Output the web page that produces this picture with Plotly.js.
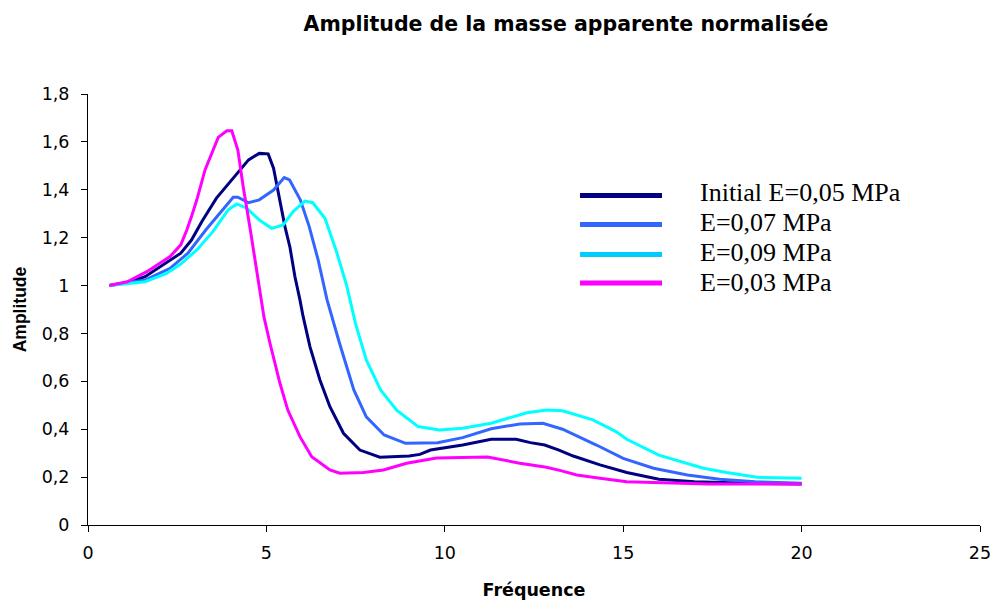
<!DOCTYPE html>
<html>
<head>
<meta charset="utf-8">
<script src="https://cdn.plot.ly/plotly-3.0.1.min.js"></script>
<style>html,body{margin:0;padding:0;background:#fff;}#chart{width:992px;height:601px;}</style>
</head>
<body>
<div id="chart"></div>
<script>
// ---- Data ----
const seriesNames = ["Initial E=0,05 MPa", "E=0,07 MPa", "E=0,09 MPa", "E=0,03 MPa"];

const freqE05 = [0.6, 1.2, 1.6, 2.1, 2.6, 2.9, 3.2, 3.6, 4.0, 4.3, 4.5, 4.8, 5.05, 5.2, 5.38, 5.52, 5.66, 5.8, 5.94, 6.03, 6.22, 6.5, 6.78, 7.16, 7.62, 8.18, 9.0, 9.3, 9.6, 10.5, 11.3, 12.0, 12.4, 12.8, 13.2, 13.6, 14.35, 15.1, 16.0, 17.0, 18.6, 20.0];
const ampE05  = [1.0, 1.016, 1.037, 1.086, 1.135, 1.19, 1.27, 1.365, 1.434, 1.49, 1.525, 1.552, 1.55, 1.49, 1.358, 1.246, 1.16, 1.037, 0.94, 0.87, 0.745, 0.606, 0.494, 0.383, 0.313, 0.283, 0.288, 0.295, 0.313, 0.334, 0.358, 0.358, 0.344, 0.334, 0.313, 0.288, 0.251, 0.219, 0.191, 0.181, 0.174, 0.171];

const freqE07 = [0.6, 1.6, 2.3, 2.8, 3.3, 3.8, 4.07, 4.2, 4.5, 4.8, 5.2, 5.5, 5.65, 5.95, 6.2, 6.45, 6.7, 7.05, 7.45, 7.8, 8.3, 8.9, 9.3, 9.8, 10.5, 11.3, 12.1, 12.75, 13.3, 14.25, 15.0, 15.85, 16.8, 17.7, 18.7, 20.0];
const ampE07  = [1.0, 1.023, 1.072, 1.135, 1.232, 1.323, 1.369, 1.369, 1.346, 1.358, 1.399, 1.451, 1.441, 1.358, 1.246, 1.107, 0.94, 0.759, 0.564, 0.452, 0.376, 0.341, 0.341, 0.344, 0.365, 0.402, 0.422, 0.425, 0.400, 0.334, 0.278, 0.237, 0.209, 0.191, 0.181, 0.174];

const freqE09 = [0.6, 1.6, 2.2, 2.6, 3.05, 3.5, 3.93, 4.17, 4.45, 4.8, 5.15, 5.47, 5.75, 6.08, 6.3, 6.64, 6.95, 7.25, 7.5, 7.8, 8.2, 8.65, 9.25, 9.85, 10.5, 11.3, 12.3, 12.85, 13.3, 14.15, 14.8, 15.1, 16.0, 17.25, 17.9, 18.75, 20.0];
const ampE09  = [1.0, 1.016, 1.051, 1.09, 1.149, 1.225, 1.316, 1.341, 1.323, 1.274, 1.239, 1.253, 1.309, 1.353, 1.346, 1.281, 1.149, 1.0, 0.84, 0.689, 0.564, 0.48, 0.411, 0.397, 0.404, 0.425, 0.469, 0.48, 0.477, 0.439, 0.39, 0.358, 0.292, 0.237, 0.219, 0.199, 0.195];

const freqE03 = [0.6, 1.1, 1.65, 2.3, 2.6, 2.77, 2.9, 3.05, 3.28, 3.47, 3.65, 3.89, 4.03, 4.2, 4.35, 4.55, 4.73, 4.93, 5.1, 5.38, 5.6, 5.94, 6.27, 6.78, 7.06, 7.72, 8.28, 8.93, 9.77, 11.2, 12.1, 12.85, 13.25, 13.7, 14.35, 15.1, 15.85, 17.4, 20.0];
const ampE03  = [1.0, 1.016, 1.058, 1.121, 1.17, 1.232, 1.288, 1.358, 1.483, 1.553, 1.619, 1.646, 1.646, 1.566, 1.413, 1.232, 1.051, 0.87, 0.759, 0.592, 0.48, 0.369, 0.285, 0.23, 0.216, 0.219, 0.23, 0.258, 0.28, 0.284, 0.258, 0.241, 0.227, 0.209, 0.195, 0.181, 0.177, 0.171, 0.171];

const xTickVals = [0, 5, 10, 15, 20, 25];
const xTickText = ["0", "5", "10", "15", "20", "25"];
const yTickVals = [0, 0.2, 0.4, 0.6, 0.8, 1, 1.2, 1.4, 1.6, 1.8];
const yTickText = ["0", "0,2", "0,4", "0,6", "0,8", "1", "1,2", "1,4", "1,6", "1,8"];

// ---- Styling ----
const lineColors   = ["#000080", "#3366FF", "#00FFFF", "#FF00FF"];
const legendColors = ["#000080", "#3366FF", "#00CCFF", "#FF00FF"];
const xs = [freqE05, freqE07, freqE09, freqE03];
const ys = [ampE05, ampE07, ampE09, ampE03];

const traces = seriesNames.map((n, i) => ({
  type: "scatter", mode: "lines", name: n,
  x: xs[i], y: ys[i],
  line: {color: lineColors[i], width: 3, shape: "linear"},
  showlegend: false
}));

// manual legend (long line samples like the reference)
const legLineX0 = 0.5516, legLineX1 = 0.6435, legTextX = 0.6839;
const legLineY = [0.7645, 0.6972, 0.6276, 0.5615];
const legTextY = [0.7726, 0.7007, 0.6334, 0.5638];
const shapes = seriesNames.map((n, i) => ({
  type: "line", xref: "paper", yref: "paper",
  x0: legLineX0, x1: legLineX1, y0: legLineY[i], y1: legLineY[i],
  line: {color: legendColors[i], width: 5}
}));
const annotations = seriesNames.map((n, i) => ({
  xref: "paper", yref: "paper", x: legTextX, y: legTextY[i],
  xanchor: "left", yanchor: "middle", showarrow: false, text: n,
  font: {family: "Liberation Serif, Times New Roman, serif", size: 26, color: "#000"}
}));

const layout = {
  width: 992, height: 601,
  margin: {l: 88, r: 12, t: 94, b: 76},
  paper_bgcolor: "#fff", plot_bgcolor: "#fff",
  showlegend: false,
  title: {
    text: "<b>Amplitude de la masse apparente normalisée</b>",
    font: {family: "DejaVu Sans, sans-serif", size: 20.5, color: "#000"},
    xref: "container", yref: "container", x: 566/992, xanchor: "center",
    y: 1 - 24/601, yanchor: "middle"
  },
  xaxis: {
    range: [0, 25], tickvals: xTickVals, ticktext: xTickText,
    showgrid: false, zeroline: false, showline: true, linecolor: "#000", linewidth: 1,
    ticks: "outside", ticklen: 6, tickcolor: "#000", ticklabelstandoff: 6,
    tickfont: {family: "DejaVu Sans, sans-serif", size: 17.5, color: "#000"},
    title: {text: "<b>Fréquence</b>", standoff: 21,
      font: {family: "DejaVu Sans, sans-serif", size: 17.5, color: "#000"}},
    automargin: false
  },
  yaxis: {
    range: [0, 1.8], tickvals: yTickVals, ticktext: yTickText,
    showgrid: false, zeroline: false, showline: true, linecolor: "#000", linewidth: 1,
    ticks: "outside", ticklen: 6, tickcolor: "#000", ticklabelstandoff: 8,
    tickfont: {family: "DejaVu Sans, sans-serif", size: 17.5, color: "#000"},
    title: {text: "<b>Amplitude</b>", standoff: 10,
      font: {family: "Liberation Sans, Arial, sans-serif", size: 17.5, color: "#000"}},
    automargin: false
  },
  shapes: shapes,
  annotations: annotations
};

Plotly.newPlot("chart", traces, layout, {displayModeBar: false, staticPlot: true});
</script>
</body>
</html>
